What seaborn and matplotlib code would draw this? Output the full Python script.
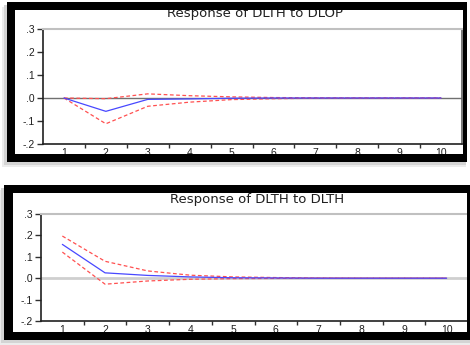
import matplotlib
matplotlib.use("Agg")
import matplotlib.pyplot as plt
from matplotlib.patches import Rectangle
from matplotlib.ticker import FixedLocator, FixedFormatter
import seaborn as sns
import pandas as pd

periods = [1, 2, 3, 4, 5, 6, 7, 8, 9, 10]

# Response of DLTH to DLOP
dlop_resp = [0.0, -0.058, -0.006, -0.004, -0.001, 0.0, 0.0, 0.0, 0.0, 0.0]
dlop_upper = [0.0, -0.003, 0.018, 0.010, 0.005, 0.002, 0.001, 0.0, 0.0, 0.0]
dlop_lower = [0.0, -0.112, -0.036, -0.018, -0.007, -0.003, -0.001, 0.0, 0.0, 0.0]

# Response of DLTH to DLTH
dlth_resp = [0.158, 0.025, 0.013, 0.006, 0.002, 0.001, 0.0, 0.0, 0.0, 0.0]
dlth_upper = [0.197, 0.079, 0.034, 0.014, 0.006, 0.003, 0.001, 0.0, 0.0, 0.0]
dlth_lower = [0.122, -0.028, -0.013, -0.005, -0.002, -0.001, 0.0, 0.0, 0.0, 0.0]

titles = ["Response of DLTH to DLOP", "Response of DLTH to DLTH"]
ytick_vals = [-0.2, -0.1, 0.0, 0.1, 0.2, 0.3]
ytick_labels = ["-.2", "-.1", ".0", ".1", ".2", ".3"]

sns.set_theme(style="white")
plt.rcParams["font.family"] = ["Liberation Sans", "DejaVu Sans"]

W, H = 470, 345
fig = plt.figure(figsize=(W / 100, H / 100), dpi=100)
fig.patch.set_facecolor("white")


def px_rect(x0, y0, x1, y1):
    """pixel box (top-left origin) -> figure fraction [l, b, w, h]"""
    return [x0 / W, 1 - y1 / H, (x1 - x0) / W, (y1 - y0) / H]


def frame(outer, inner, zorder=5):
    ox0, oy0, ox1, oy1 = outer
    ix0, iy0, ix1, iy1 = inner
    # soft shadow
    for off, col in [(5, "#ececec"), (3, "#d4d4d4")]:
        l, b, w, h = px_rect(ox0 - off, oy0 + off, ox1 - 1, oy1 + off)
        fig.patches.append(Rectangle((l, b), w, h, transform=fig.transFigure,
                                     facecolor=col, edgecolor="none", zorder=-3))
    # white interior
    l, b, w, h = px_rect(ix0, iy0, ix1, iy1)
    fig.patches.append(Rectangle((l, b), w, h, transform=fig.transFigure,
                                 facecolor="white", edgecolor="none", zorder=-2))
    # black bands
    bands = [(ox0, oy0, ox1, iy0), (ox0, iy1, ox1, oy1),
             (ox0, iy0, ix0, iy1), (ix1, iy0, ox1, iy1)]
    for bx0, by0, bx1, by1 in bands:
        if bx1 - bx0 <= 0 or by1 - by0 <= 0:
            continue
        l, b, w, h = px_rect(bx0, by0, bx1, by1)
        fig.patches.append(Rectangle((l, b), w, h, transform=fig.transFigure,
                                     facecolor="black", edgecolor="none", zorder=zorder))


panels = [
    dict(outer=(7, 2, 467, 162), inner=(15, 10, 463, 154),
         ax=(43, 29, 462, 144), title_y=14,
         resp=dlop_resp, up=dlop_upper, lo=dlop_lower,
         zero_col="#707070", zero_lw=1.0, right=True),
    dict(outer=(4, 185, 472, 340), inner=(13, 193, 467, 332),
         ax=(41, 214, 468, 321), title_y=200,
         resp=dlth_resp, up=dlth_upper, lo=dlth_lower,
         zero_col="#cfcfcf", zero_lw=2.0, right=False),
]

for i, p in enumerate(panels):
    frame(p["outer"], p["inner"])
    ax = fig.add_axes(px_rect(*p["ax"]))
    ax.set_facecolor("none")
    ax.set_zorder(0)

    df = pd.DataFrame({"period": periods, "resp": p["resp"],
                       "upper": p["up"], "lower": p["lo"]})
    ax.axhline(0, color=p["zero_col"], lw=p["zero_lw"], zorder=1)
    sns.lineplot(data=df, x="period", y="upper", ax=ax, color="#ff5050",
                 lw=0.9, zorder=3).lines[-1].set_dashes([3, 2])
    sns.lineplot(data=df, x="period", y="lower", ax=ax, color="#ff5050",
                 lw=0.9, zorder=3).lines[-1].set_dashes([3, 2])
    sns.lineplot(data=df, x="period", y="resp", ax=ax, color="#4848ff",
                 lw=0.9, zorder=4)

    ax.set_xlim(0.5, 10.5)
    ax.set_ylim(-0.2, 0.3)
    ax.set_xlabel("")
    ax.set_ylabel("")

    ax.xaxis.set_major_locator(FixedLocator(periods))
    ax.xaxis.set_major_formatter(FixedFormatter([str(v) for v in periods]))
    ax.xaxis.set_minor_locator(FixedLocator([v + 0.5 for v in periods[:-1]]))
    ax.tick_params(axis="x", which="major", length=0, labelsize=7.5, pad=3,
                   labelcolor="#202020")
    ax.tick_params(axis="x", which="minor", length=3, width=1, color="#303030",
                   direction="out", bottom=True)
    ax.yaxis.set_major_locator(FixedLocator(ytick_vals))
    ax.yaxis.set_major_formatter(FixedFormatter(ytick_labels))
    ax.tick_params(axis="y", length=4, width=1, color="#303030", direction="out",
                   labelsize=7.5, pad=2, labelcolor="#202020", left=True)

    for side in ["left", "bottom"]:
        ax.spines[side].set_color("#202020")
        ax.spines[side].set_linewidth(1.2)
    ax.spines["top"].set_color("#c0c0c0")
    ax.spines["top"].set_linewidth(1.5)
    ax.spines["right"].set_visible(p["right"])
    ax.spines["right"].set_color("#606060")
    ax.spines["right"].set_linewidth(1.2)

    cx = (p["ax"][0] + p["ax"][2]) / 2 / W + 0.005
    fig.text(cx, 1 - p["title_y"] / H, titles[i], ha="center", va="center",
             fontsize=9.5, color="#202020", zorder=3,
             family=["DejaVu Sans"])

fig.savefig("out.png", dpi=100)
